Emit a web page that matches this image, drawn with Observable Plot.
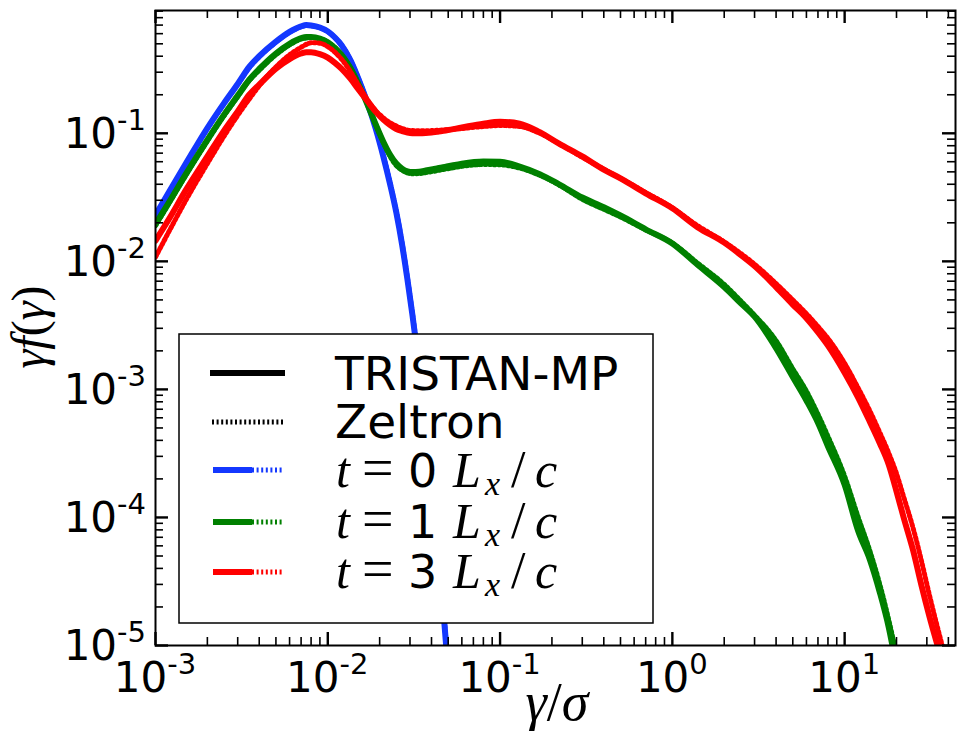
<!DOCTYPE html>
<html><head><meta charset="utf-8">
<script src="https://cdn.jsdelivr.net/npm/d3@7"></script>
<script src="https://cdn.jsdelivr.net/npm/@observablehq/plot@0.6"></script>
<style>body{margin:0;background:#fff}#chart svg{display:block}</style>
</head><body><div id="chart"></div>
<script>
// ---- data ----
const gammaOverSigma = [0.001,0.0012,0.0015,0.002,0.0025,0.003,0.0035,0.004,0.005,0.006,0.007,0.0075,0.008,0.009,0.010,0.011,0.012,0.0135,0.015,0.017,0.019,0.021,0.023,0.025,0.027,0.029,0.031,0.034,0.037,0.040,0.043,0.046,0.049,0.06,0.08,0.1,0.13,0.17,0.22,0.3,0.4,0.5,0.7,1.0,1.4,2,2.5,3,4,5,6,7,8,10,12,14,16,18,20,22,25,28,31,35,39];

const tristanT0 = [0.023,0.035,0.058,0.110,0.172,0.243,0.33,0.40,0.52,0.62,0.685,0.70,0.695,0.67,0.625,0.56,0.49,0.375,0.27,0.172,0.108,0.066,0.040,0.024,0.0135,0.0072,0.0038,0.00145,0.00055,0.0002,0.000072,0.000026,0.0000088];
const zeltronT0 = [0.0225,0.0345,0.057,0.108,0.170,0.240,0.325,0.395,0.515,0.615,0.68,0.695,0.692,0.668,0.623,0.56,0.49,0.377,0.272,0.174,0.11,0.067,0.041,0.0245,0.0138,0.0074,0.0039,0.0015,0.00057,0.00021,0.000075,0.000027,0.0000092];
const tristanT1 = [0.0195,0.029,0.048,0.089,0.140,0.197,0.262,0.318,0.42,0.50,0.553,0.565,0.565,0.55,0.515,0.465,0.41,0.325,0.245,0.168,0.117,0.086,0.068,0.058,0.053,0.0505,0.0498,0.0502,0.0512,0.0522,0.0532,0.0542,0.055,0.058,0.0603,0.060,0.055,0.048,0.040,0.0315,0.0265,0.0228,0.0178,0.0138,0.0094,0.0063,0.0047,0.0037,0.0021,0.00125,0.00082,0.00055,0.00036,0.00018,0.000078,0.000047,0.000026,0.000014,0.0000068];
const zeltronT1 = [0.019,0.0285,0.047,0.087,0.137,0.193,0.258,0.31,0.41,0.49,0.545,0.555,0.558,0.548,0.515,0.468,0.413,0.328,0.248,0.17,0.117,0.085,0.066,0.056,0.0515,0.049,0.0483,0.0485,0.0493,0.0502,0.051,0.052,0.0527,0.0552,0.057,0.0568,0.0535,0.047,0.0395,0.0305,0.0255,0.0222,0.0176,0.0139,0.0097,0.0066,0.0049,0.0038,0.0024,0.00145,0.00097,0.00064,0.00043,0.00021,0.0001,0.000055,0.00003,0.000016,0.0000085];
const tristanT3 = [0.0145,0.0215,0.036,0.066,0.105,0.148,0.20,0.24,0.32,0.38,0.42,0.43,0.43,0.415,0.39,0.355,0.32,0.268,0.222,0.178,0.147,0.128,0.116,0.108,0.104,0.1015,0.1003,0.1,0.1005,0.1015,0.1028,0.104,0.1055,0.111,0.119,0.123,0.119,0.102,0.083,0.066,0.052,0.0445,0.034,0.026,0.0185,0.014,0.0112,0.0092,0.0063,0.0046,0.0036,0.0028,0.0022,0.00135,0.00086,0.00056,0.00038,0.00026,0.00016,0.0001,0.000055,0.000029,0.000017,0.0000095];
const zeltronT3 = [0.0108,0.0172,0.030,0.058,0.095,0.138,0.185,0.235,0.33,0.41,0.47,0.495,0.51,0.505,0.475,0.43,0.38,0.305,0.24,0.183,0.15,0.132,0.121,0.114,0.109,0.106,0.105,0.1045,0.1045,0.105,0.1055,0.106,0.1065,0.109,0.113,0.115,0.113,0.1,0.083,0.065,0.0525,0.0445,0.0345,0.0262,0.019,0.0142,0.0115,0.0095,0.0067,0.005,0.0039,0.0031,0.0025,0.0016,0.00102,0.00068,0.00046,0.00032,0.00022,0.000145,0.000082,0.000045,0.000025,0.000013,0.0000075];

const codeLabels = ["TRISTAN-MP", "Zeltron"];
const timeLabels = ["0", "1", "3"];
const seriesColors = ["#1438ff", "#008000", "#ff0000"];
const xMajorTicks = [1e-3, 1e-2, 1e-1, 1, 10];
const xTickExponents = ["-3", "-2", "-1", "0", "1"];
const yMajorTicks = [1e-5, 1e-4, 1e-3, 1e-2, 1e-1];
const yTickExponents = ["-5", "-4", "-3", "-2", "-1"];

// ---- build tables ----
function rows(ys) {
  return gammaOverSigma.map((x, i) => ({x, y: ys[i]})).filter(d => d.y != null);
}
const tristan = [tristanT0, tristanT1, tristanT3];
const zeltron = [zeltronT0, zeltronT1, zeltronT3];

const xMinor = [], yMinor = [];
for (let e = -3; e <= 1; e++) for (let m = 2; m <= 9; m++) { const v = m * Math.pow(10, e); if (v <= 44) xMinor.push(v); }
for (let e = -5; e <= -1; e++) for (let m = 2; m <= 9; m++) { const v = m * Math.pow(10, e); if (v <= 0.91) yMinor.push(v); }

const frameW = 960 - 155 - 5, frameH = 731 - 10 - 86;
const SOLID_W = 6, DOT_W = 5, DOT_DASH = "2,2.6";
const lineMarks = [];
for (let k = 0; k < 3; k++) {
  lineMarks.push(Plot.line(rows(tristan[k]), {x: "x", y: "y", stroke: seriesColors[k], strokeWidth: SOLID_W, curve: "monotone-x", clip: true}));
  lineMarks.push(Plot.line(rows(zeltron[k]), {x: "x", y: "y", stroke: seriesColors[k], strokeWidth: DOT_W, strokeDasharray: DOT_DASH, curve: "monotone-x", clip: true}));
}

const plot = Plot.plot({
  width: 960, height: 731,
  marginLeft: 155, marginRight: 5, marginTop: 10, marginBottom: 86,
  x: {type: "log", domain: [1e-3, 44], axis: null},
  y: {type: "log", domain: [1e-5, 0.91], axis: null},
  style: {background: "white", overflow: "visible"},
  marks: [
    ...lineMarks,
    Plot.tickX(xMinor, {x: d => d, insetTop: frameH - 8, stroke: "black", strokeWidth: 1.6}),
    Plot.tickX(xMinor, {x: d => d, insetBottom: frameH - 8, stroke: "black", strokeWidth: 1.6}),
    Plot.tickX(xMajorTicks, {x: d => d, insetTop: frameH - 13, stroke: "black", strokeWidth: 2.4}),
    Plot.tickX(xMajorTicks, {x: d => d, insetBottom: frameH - 13, stroke: "black", strokeWidth: 2.4}),
    Plot.tickY(yMinor, {y: d => d, insetRight: frameW - 8, stroke: "black", strokeWidth: 1.6}),
    Plot.tickY(yMinor, {y: d => d, insetLeft: frameW - 8, stroke: "black", strokeWidth: 1.6}),
    Plot.tickY(yMajorTicks, {y: d => d, insetRight: frameW - 13, stroke: "black", strokeWidth: 2.4}),
    Plot.tickY(yMajorTicks, {y: d => d, insetLeft: frameW - 13, stroke: "black", strokeWidth: 2.4}),
    Plot.frame({stroke: "black", strokeWidth: 2})
  ]
});
document.getElementById("chart").appendChild(plot);

const svg = d3.select(plot);
const sx = plot.scale("x"), sy = plot.scale("y");
const SANS = "DejaVu Sans, Verdana, sans-serif";
const SERIF = "Liberation Serif, DejaVu Serif, serif";

// tick labels
xMajorTicks.forEach((v, i) => {
  const t = svg.append("text").attr("x", sx.apply(v)).attr("y", 692)
    .attr("text-anchor", "middle").attr("font-family", SANS).attr("font-size", 42).attr("fill", "black");
  t.append("tspan").text("10");
  t.append("tspan").attr("dy", -18).attr("font-size", 29).text(xTickExponents[i]);
});
yMajorTicks.forEach((v, i) => {
  const t = svg.append("text").attr("x", 146).attr("y", sy.apply(v) + 15)
    .attr("text-anchor", "end").attr("font-family", SANS).attr("font-size", 42).attr("fill", "black");
  t.append("tspan").text("10");
  t.append("tspan").attr("dy", -18).attr("font-size", 29).text(yTickExponents[i]);
});

// axis titles
const xl = svg.append("text").attr("x", 557).attr("y", 720).attr("text-anchor", "middle")
  .attr("font-family", SERIF).attr("font-size", 54).attr("fill", "black");
xl.append("tspan").attr("font-style", "italic").text("γ");
xl.append("tspan").text("/");
xl.append("tspan").attr("font-style", "italic").text("σ");

const yl = svg.append("text").attr("transform", "translate(45,327) rotate(-90)").attr("text-anchor", "middle")
  .attr("font-family", SERIF).attr("font-size", 48).attr("fill", "black");
yl.append("tspan").attr("font-style", "italic").text("γf");
yl.append("tspan").text("(");
yl.append("tspan").attr("font-style", "italic").text("γ");
yl.append("tspan").text(")");

// legend
const lg = svg.append("g").attr("text-anchor", "start");
lg.append("rect").attr("x", 179).attr("y", 334).attr("width", 474).attr("height", 289)
  .attr("fill", "white").attr("stroke", "black").attr("stroke-width", 1.5);
const rowY = [373, 422, 470, 522, 572];
const baseY = [390, 438, 487, 538, 588];
lg.append("line").attr("x1", 210).attr("x2", 285).attr("y1", rowY[0]).attr("y2", rowY[0]).attr("stroke", "black").attr("stroke-width", SOLID_W);
lg.append("line").attr("x1", 212).attr("x2", 283).attr("y1", rowY[1]).attr("y2", rowY[1]).attr("stroke", "black").attr("stroke-width", DOT_W).attr("stroke-dasharray", DOT_DASH);
codeLabels.forEach((s, i) => lg.append("text").attr("x", 335).attr("y", baseY[i]).attr("text-anchor", "start")
  .attr("font-family", SANS).attr("font-size", 47).attr("fill", "black").text(s));
timeLabels.forEach((s, k) => {
  const y = rowY[k + 2], b = baseY[k + 2];
  lg.append("line").attr("x1", 213).attr("x2", 252).attr("y1", y).attr("y2", y).attr("stroke", seriesColors[k]).attr("stroke-width", SOLID_W);
  lg.append("line").attr("x1", 252).attr("x2", 283).attr("y1", y).attr("y2", y).attr("stroke", seriesColors[k]).attr("stroke-width", DOT_W).attr("stroke-dasharray", DOT_DASH);
  const t = lg.append("text").attr("x", 336).attr("y", b).attr("text-anchor", "start")
    .attr("font-family", SERIF).attr("font-size", 50).attr("fill", "black");
  const part = (txt, x, opts = {}) => t.append("tspan").attr("x", x).attr("y", b + (opts.dy || 0))
    .attr("font-family", opts.sans ? SANS : SERIF).attr("font-size", opts.size || 50)
    .attr("font-style", opts.italic ? "italic" : "normal").text(txt);
  part("t", 336, {italic: true});
  part("=", 362, {size: 56});
  part(s, 408, {sans: true, size: 46});
  part("L", 453, {italic: true});
  part("x", 485, {italic: true, size: 34, dy: 8});
  part("/", 511, {size: 52});
  part("c", 535, {italic: true});
});
</script>
</body></html>
